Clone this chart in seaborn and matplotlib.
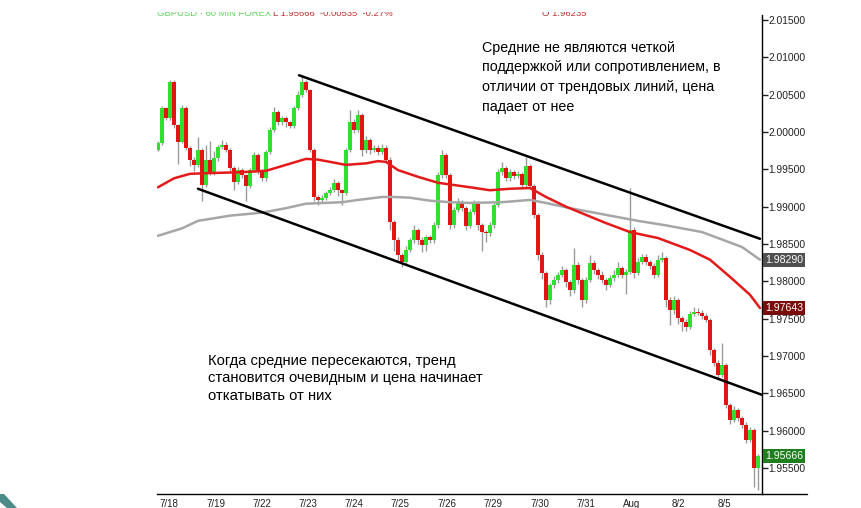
import numpy as np
import pandas as pd
import matplotlib
matplotlib.use("Agg")
import matplotlib.pyplot as plt
import matplotlib.transforms as mtransforms
from matplotlib.patches import Polygon
from matplotlib.lines import Line2D
import seaborn as sns

# ---- GBPUSD hourly candles (close prices), opens follow previous close ----
first_open = 1.9976
closes = [
    1.9985, 2.0032, 2.0019, 2.0067, 2.0009, 1.9987, 2.0032, 1.9979, 1.9963, 1.9956,
    1.9976, 1.9929, 1.9963, 1.9946, 1.9965, 1.9980, 1.9983, 1.9976, 1.9952, 1.9933,
    1.9949, 1.9942, 1.9928, 1.9949, 1.9969, 1.9949, 1.9938, 1.9973, 2.0003, 2.0027,
    2.0013, 2.0019, 2.0013, 2.0008, 2.0032, 2.0050, 2.0067, 2.0056, 1.9976, 1.9913,
    1.9909, 1.9912, 1.9918, 1.9922, 1.9932, 1.9922, 1.9918, 1.9976, 2.0013, 2.0003,
    2.0023, 1.9976, 1.9989, 1.9976, 1.9979, 1.9973, 1.9979, 1.9963, 1.9879, 1.9855,
    1.9835, 1.9826, 1.9842, 1.9855, 1.9869, 1.9855, 1.9849, 1.9859, 1.9855, 1.9875,
    1.9942, 1.9969, 1.9942, 1.9875, 1.9896, 1.9906, 1.9898, 1.9874, 1.9893, 1.9905,
    1.9875, 1.9866, 1.9865, 1.9875, 1.9902, 1.9946, 1.9952, 1.9938, 1.9946, 1.9941,
    1.9944, 1.9929, 1.9954, 1.9928, 1.9889, 1.9835, 1.9811, 1.9775, 1.9795, 1.9802,
    1.9809, 1.9815, 1.9799, 1.9788, 1.9822, 1.9802, 1.9775, 1.9802, 1.9825, 1.9815,
    1.9809, 1.9802, 1.9795, 1.9805, 1.9809, 1.9818, 1.9809, 1.9813, 1.9869, 1.9811,
    1.9826, 1.9833, 1.9826, 1.9821, 1.9809, 1.9829, 1.9831, 1.9775, 1.9762, 1.9775,
    1.9751, 1.9746, 1.9739, 1.9756, 1.9759, 1.9758, 1.9754, 1.9748, 1.9708, 1.9691,
    1.9675, 1.9688, 1.9634, 1.9614, 1.9628, 1.9617, 1.9608, 1.9588, 1.9601, 1.9550,
    1.95666,
]
# shadows beyond the candle body, in pips
wick_up = [
    3, 3, 2, 2, 3, 2, 4, 3, 2, 3, 17, 3, 20, 25, 10, 3, 6, 3, 3, 2,
    4, 3, 2, 3, 4, 3, 2, 3, 4, 6, 3, 2, 3, 2, 3, 5, 9, 3, 2, 3,
    2, 3, 3, 4, 5, 3, 2, 3, 16, 5, 7, 3, 6, 3, 4, 3, 5, 3, 3, 3,
    4, 3, 5, 3, 6, 3, 4, 3, 3, 4, 5, 7, 3, 3, 4, 5, 3, 3, 4, 4,
    3, 3, 3, 4, 3, 5, 8, 3, 4, 3, 4, 3, 12, 3, 3, 3, 4, 3, 3, 5,
    4, 6, 3, 3, 23, 4, 3, 4, 10, 4, 3, 5, 3, 4, 6, 8, 3, 3, 56, 4,
    5, 4, 3, 3, 4, 6, 8, 3, 4, 5, 3, 3, 3, 4, 6, 5, 3, 3, 3, 3,
    4, 29, 3, 3, 5, 3, 3, 3, 4, 3, 2,
]
wick_dn = [
    2, 2, 3, 3, 3, 30, 2, 3, 8, 8, 3, 22, 3, 4, 3, 4, 3, 3, 5, 10,
    3, 4, 21, 3, 2, 5, 4, 3, 2, 3, 3, 4, 6, 3, 3, 2, 3, 3, 3, 5,
    7, 4, 3, 3, 3, 8, 16, 3, 3, 4, 3, 8, 4, 6, 3, 4, 3, 4, 10, 15,
    6, 7, 4, 3, 3, 5, 10, 8, 4, 3, 3, 3, 4, 5, 3, 3, 4, 5, 3, 3,
    6, 25, 12, 4, 3, 3, 3, 4, 3, 4, 3, 5, 3, 3, 4, 6, 8, 9, 6, 4,
    4, 3, 6, 8, 3, 6, 10, 4, 3, 5, 6, 4, 6, 3, 4, 3, 5, 26, 3, 6,
    3, 3, 4, 5, 4, 3, 3, 10, 20, 6, 8, 12, 6, 3, 3, 3, 4, 3, 6, 5,
    4, 3, 4, 5, 3, 4, 4, 5, 3, 25, 30,
]

# ---- moving averages (bar index, price) ----
ma_fast_x = [0, 4, 8, 13, 20, 27, 32, 37, 40, 47, 52, 55, 57, 60, 65, 70,
             74, 78, 83, 88, 93, 97, 102, 107, 112, 118, 125, 133, 138, 143, 148, 150.5]
ma_fast = [1.9926, 1.9938, 1.9944, 1.9945, 1.9946, 1.9948, 1.9956, 1.9964,
           1.9963, 1.9956, 1.9958, 1.9961, 1.9960, 1.9949, 1.9940, 1.9932,
           1.9929, 1.9926, 1.9922, 1.9924, 1.9925, 1.9913, 1.9900, 1.9889,
           1.9878, 1.9866, 1.9858, 1.9842, 1.9829, 1.9806, 1.9782, 1.97643]
ma_slow_x = [0, 6, 10, 18, 26, 32, 37, 46, 50, 56, 59, 63, 68, 73, 78, 86,
             93, 97, 103, 108, 112, 120, 127, 136, 140, 146, 150.5]
ma_slow = [1.9861, 1.9871, 1.9881, 1.9888, 1.9892, 1.9898, 1.9904, 1.9906,
           1.9909, 1.9913, 1.9913, 1.9912, 1.9908, 1.9906, 1.9905, 1.9906,
           1.9909, 1.9905, 1.9898, 1.9893, 1.9889, 1.9881, 1.9875, 1.9866,
           1.9858, 1.9846, 1.98290]

# ---- trend channel ----
channel_top_x = [35.25, 150.5]
channel_top = [2.0076, 1.9857]
channel_bot_x = [10, 151]
channel_bot = [1.9924, 1.9648]

# ---- axes labels ----
date_ticks = [2.75, 14.4, 26, 37.5, 49, 60.5, 72.25, 83.75, 95.5, 107, 118.5, 130, 141.5]
date_labels = ["7/18", "7/19", "7/22", "7/23", "7/24", "7/25", "7/26",
               "7/29", "7/30", "7/31", "Aug", "8/2", "8/5"]
price_ticks = [1.955, 1.960, 1.965, 1.970, 1.975, 1.980, 1.985,
               1.990, 1.995, 2.000, 2.005, 2.010, 2.015]

note_top = ("Средние не являются четкой\n"
            "поддержкой или сопротивлением, в\n"
            "отличии от трендовых линий, цена\n"
            "падает от нее")
note_bottom = ("Когда средние пересекаются, тренд\n"
               "становится очевидным и цена начинает\n"
               "откатывать от них")

sns.set_style("white")
plt.rcParams["font.family"] = ["Liberation Sans", "DejaVu Sans"]

W, H = 861, 508
fig = plt.figure(figsize=(W / 100, H / 100), dpi=100)
fig.patch.set_facecolor("white")
ax = fig.add_axes([157 / W, 1 - 494 / H, (762 - 157) / W, (494 - 15) / H])
ax.set_facecolor("white")

# candles
pip = 0.0001
c = np.array(closes)
o = np.array([first_open] + closes[:-1])
idx = np.arange(len(c))
top = np.maximum(o, c)
bot = np.minimum(o, c)
hi = top + np.array(wick_up) * pip
lo = bot - np.array(wick_dn) * pip
body = np.maximum(top - bot, 0.00012)
colors = np.where(c >= o, "#2fe02f", "#e31414")

ax.vlines(idx, lo, hi, color="#9a9a9a", lw=1.0, zorder=2)
ax.bar(idx, body, bottom=bot, width=0.78, color=colors, linewidth=0, zorder=3)

# moving averages and channel lines
ma_df = pd.DataFrame({"x": ma_slow_x, "y": ma_slow})
sns.lineplot(data=ma_df, x="x", y="y", ax=ax, color="#a6a6a6", lw=1.8,
             estimator=None, sort=False, zorder=4)
ma_df = pd.DataFrame({"x": ma_fast_x, "y": ma_fast})
sns.lineplot(data=ma_df, x="x", y="y", ax=ax, color="#e41a1a", lw=1.8,
             estimator=None, sort=False, zorder=5)
sns.lineplot(x=channel_top_x, y=channel_top, ax=ax, color="black", lw=1.8,
             estimator=None, sort=False, zorder=6)
sns.lineplot(x=channel_bot_x, y=channel_bot, ax=ax, color="black", lw=1.8,
             estimator=None, sort=False, zorder=6)

ax.set_xlim(-0.25, 151)
ax.set_ylim(1.951521, 2.01567)
ax.set_xlabel("")
ax.set_ylabel("")

# axes styling
for s in ("left", "top"):
    ax.spines[s].set_visible(False)
for s in ("right", "bottom"):
    ax.spines[s].set_color("black")
    ax.spines[s].set_linewidth(1.0)
ax.yaxis.tick_right()
ax.set_yticks(price_ticks)
ax.set_yticklabels([f"{v:.5f}" for v in price_ticks])
ax.set_xticks(date_ticks)
ax.set_xticklabels(date_labels)
ax.tick_params(axis="y", direction="out", length=4, width=1, pad=0.5,
               labelsize=7.4, colors="#222222")
ax.tick_params(axis="x", direction="out", length=3, width=1, pad=0.5,
               labelsize=7.0, colors="#222222")
ax.grid(False)

# bottom rule continues under the price scale
fig.add_artist(Line2D([762 / W, 807 / W], [1 - 494 / H] * 2, color="black", lw=1.0))

# last-value tags on the price scale
tr = mtransforms.blended_transform_factory(ax.transAxes, ax.transData)
for val, fc in ((ma_slow[-1], "#505050"), (ma_fast[-1], "#7a0c0c"), (closes[-1], "#1f7f1f")):
    ax.annotate(f"{val:.5f}", xy=(1.0, val), xycoords=tr, xytext=(3, 0),
                textcoords="offset pixels", ha="left", va="center",
                fontsize=7.6, color="white", zorder=20, annotation_clip=False,
                bbox=dict(boxstyle="square,pad=0.2", fc=fc, ec="none"))

# header line, cut by the top edge
clip = mtransforms.Bbox.from_extents(0, 0, W, H - 12)
t1 = fig.text(157 / W, 1 - 13 / H, "GBPUSD · 60 MIN FOREX", color="#5fd35f",
              fontsize=6.8, va="center", ha="left")
t2 = fig.text(273 / W, 1 - 13 / H, "L 1.95666  -0.00535  -0.27%", color="#c03030",
              fontsize=6.8, va="center", ha="left")
t3 = fig.text(542 / W, 1 - 13 / H, "O 1.96235", color="#c03030",
              fontsize=6.8, va="center", ha="left")
for t in (t1, t2, t3):
    t.set_clip_box(clip)
    t.set_clip_on(True)

# notes
fig.text(482 / W, 1 - 41 / H, note_top, fontsize=10.3, color="black",
         ha="left", va="top", linespacing=1.5)
fig.text(208 / W, 1 - 354 / H, note_bottom, fontsize=10.6, color="black",
         ha="left", va="top", linespacing=1.3)

# slide corner ornament
fig.patches.append(Polygon([(0, 14 / H), (4 / W, 14 / H), (17 / W, 0), (7 / W, 0), (0, 6 / H)],
                           closed=True, transform=fig.transFigure, fc="#4d8b8b", ec="none"))

fig.savefig("out.png", dpi=100)
